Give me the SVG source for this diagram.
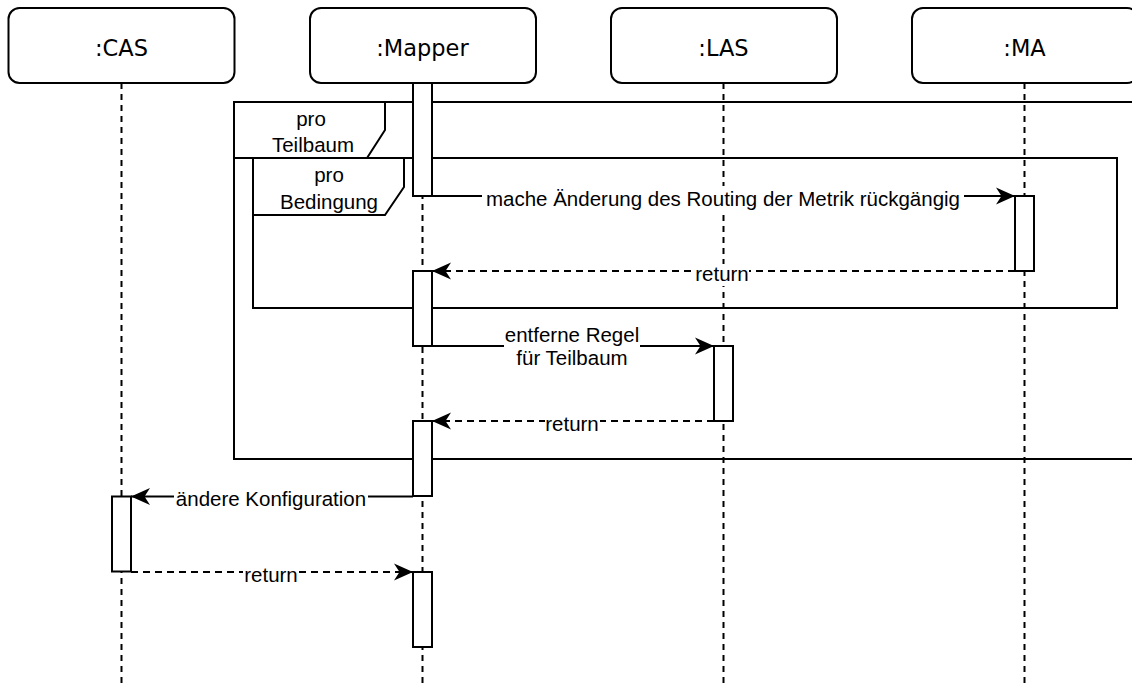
<svg xmlns="http://www.w3.org/2000/svg" width="1132" height="684" viewBox="0 0 1132 684">
  <style>
    .head { fill: #ffffff; stroke: #000000; stroke-width: 2; }
    .headtxt { font-family: "DejaVu Sans", sans-serif; font-size: 22.5px; fill: #000000; text-anchor: middle; }
    .life { stroke: #000000; stroke-width: 2; stroke-dasharray: 6 5; fill: none; }
    .act { fill: #ffffff; stroke: #000000; stroke-width: 2; }
    .frame { fill: none; stroke: #000000; stroke-width: 2; }
    .flabel { fill: #ffffff; stroke: #000000; stroke-width: 2; }
    .txt { font-family: "Liberation Sans", Arial, sans-serif; font-size: 20.5px; fill: #000000; text-anchor: middle; }
    .msg { stroke: #000000; stroke-width: 2; fill: none; marker-end: url(#arrow); }
    .ret { stroke: #000000; stroke-width: 2; fill: none; stroke-dasharray: 7 5; marker-end: url(#arrow); }
    .bg { fill: #ffffff; stroke: none; }
  </style>
  <defs>
    <marker id="arrow" markerUnits="userSpaceOnUse" markerWidth="22" markerHeight="20" viewBox="0 0 22 20" refX="19" refY="9" orient="auto">
      <path d="M0,0.5 L19,9 L0,17.5 L5.5,9 Z" fill="#000000" stroke="none"/>
    </marker>
  </defs>

  <!-- lifelines -->
  <g id="lifelines">
    <line class="life" x1="121.5" y1="83" x2="121.5" y2="684"/>
    <line class="life" x1="422.5" y1="83" x2="422.5" y2="684"/>
    <line class="life" x1="723.5" y1="83" x2="723.5" y2="684"/>
    <line class="life" x1="1024.5" y1="83" x2="1024.5" y2="684"/>
  </g>

  <!-- combined fragments -->
  <g id="frame-teilbaum">
    <rect class="frame" x="234" y="102" width="910" height="357"/>
    <path class="flabel" d="M234,102 H385 V130 L367,158 H234 Z"/>
    <text class="txt" x="311" y="126">pro</text>
    <text class="txt" x="313" y="152">Teilbaum</text>
  </g>
  <g id="frame-bedingung">
    <rect class="frame" x="253" y="158" width="864" height="150"/>
    <path class="flabel" d="M253,158 H404 V187 L385,215 H253 Z"/>
    <text class="txt" x="329" y="182">pro</text>
    <text class="txt" x="329" y="209">Bedingung</text>
  </g>

  <!-- lifeline heads -->
  <g id="cas">
    <rect class="head" x="8.5" y="8" width="226" height="75" rx="11"/>
    <text class="headtxt" x="121.5" y="56">:CAS</text>
  </g>
  <g id="mapper">
    <rect class="head" x="310" y="8" width="226" height="75" rx="11"/>
    <text class="headtxt" x="422.5" y="56">:Mapper</text>
  </g>
  <g id="las">
    <rect class="head" x="611" y="8" width="226" height="75" rx="11"/>
    <text class="headtxt" x="723.5" y="56">:LAS</text>
  </g>
  <g id="ma">
    <rect class="head" x="912" y="8" width="226" height="75" rx="11"/>
    <text class="headtxt" x="1024.5" y="56">:MA</text>
  </g>

  <!-- activation bars -->
  <g id="activations">
    <rect class="act" x="413" y="83" width="19" height="113"/>
    <rect class="act" x="413" y="271" width="19" height="75"/>
    <rect class="act" x="413" y="421" width="19" height="75"/>
    <rect class="act" x="413" y="572" width="19" height="75"/>
    <rect class="act" x="1015" y="196" width="19" height="75"/>
    <rect class="act" x="714" y="346" width="19" height="75"/>
    <rect class="act" x="112" y="496.5" width="19" height="75"/>
  </g>

  <!-- messages -->
  <g id="connectors">
    <line class="msg" x1="432" y1="196" x2="1015" y2="196"/>
    <rect class="bg" x="482" y="186" width="482" height="26"/>
    <text class="txt" x="723" y="206">mache Änderung des Routing der Metrik rückgängig</text>

    <line class="ret" x1="1015" y1="271" x2="432" y2="271"/>
    <rect class="bg" x="695" y="264" width="54" height="22"/>
    <text class="txt" x="722" y="281">return</text>

    <line class="msg" x1="432" y1="346" x2="714" y2="346"/>
    <rect class="bg" x="504" y="328" width="136" height="44"/>
    <text class="txt" x="572" y="342">entferne Regel</text>
    <text class="txt" x="572" y="365">für Teilbaum</text>

    <line class="ret" x1="714" y1="421" x2="432" y2="421"/>
    <rect class="bg" x="545" y="414" width="55" height="22"/>
    <text class="txt" x="572" y="430.5">return</text>

    <line class="msg" x1="413" y1="496.5" x2="131" y2="496.5"/>
    <rect class="bg" x="174" y="488" width="194" height="24"/>
    <text class="txt" x="271" y="506">ändere Konfiguration</text>

    <line class="ret" x1="131" y1="572" x2="413" y2="572"/>
    <rect class="bg" x="243" y="565" width="55" height="22"/>
    <text class="txt" x="271" y="581.5">return</text>
  </g>
</svg>
